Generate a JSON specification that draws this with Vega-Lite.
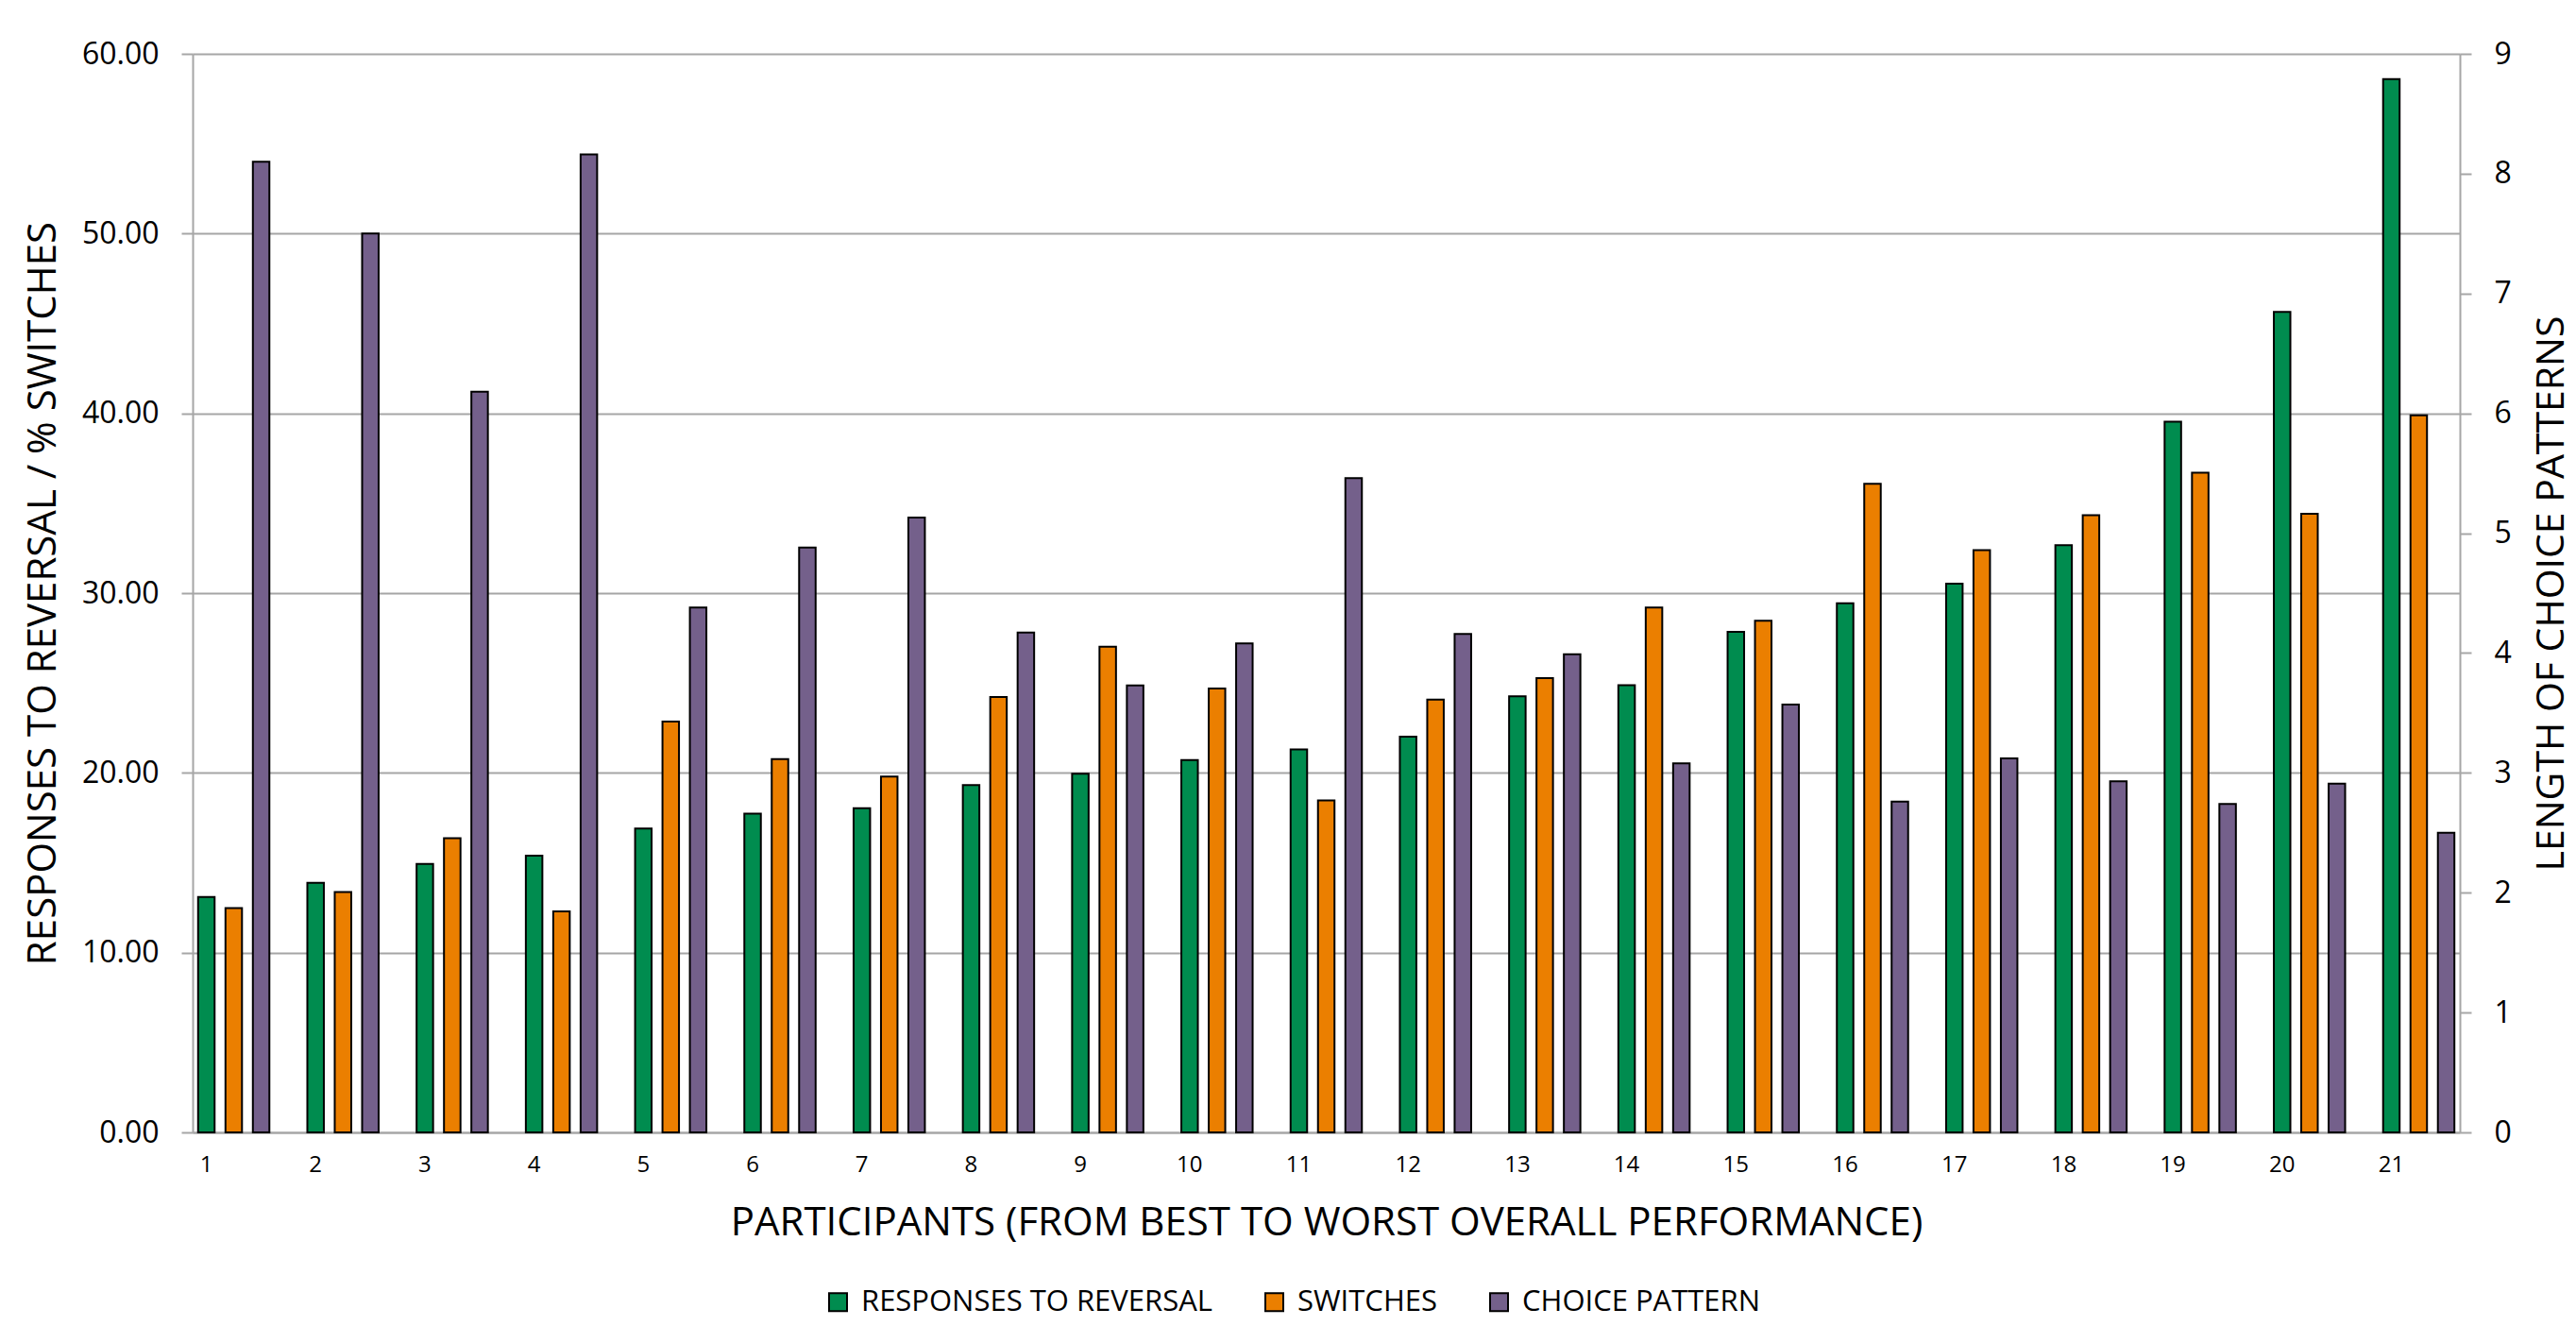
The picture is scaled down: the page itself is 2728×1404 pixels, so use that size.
{
  "$schema": "https://vega.github.io/schema/vega-lite/v6.json",
  "autosize": {"type": "none"},
  "padding": {"left": 204, "top": 57, "right": 123, "bottom": 205},
  "width": 2401,
  "height": 1142,
  "background": "#ffffff",
  "data": {
    "values": [
      {"participant": 1, "series": "RESPONSES TO REVERSAL", "value": 13.10},
      {"participant": 1, "series": "SWITCHES", "value": 12.48},
      {"participant": 1, "series": "CHOICE PATTERN", "value": 8.10},
      {"participant": 2, "series": "RESPONSES TO REVERSAL", "value": 13.88},
      {"participant": 2, "series": "SWITCHES", "value": 13.37},
      {"participant": 2, "series": "CHOICE PATTERN", "value": 7.50},
      {"participant": 3, "series": "RESPONSES TO REVERSAL", "value": 14.93},
      {"participant": 3, "series": "SWITCHES", "value": 16.37},
      {"participant": 3, "series": "CHOICE PATTERN", "value": 6.18},
      {"participant": 4, "series": "RESPONSES TO REVERSAL", "value": 15.40},
      {"participant": 4, "series": "SWITCHES", "value": 12.29},
      {"participant": 4, "series": "CHOICE PATTERN", "value": 8.16},
      {"participant": 5, "series": "RESPONSES TO REVERSAL", "value": 16.91},
      {"participant": 5, "series": "SWITCHES", "value": 22.86},
      {"participant": 5, "series": "CHOICE PATTERN", "value": 4.38},
      {"participant": 6, "series": "RESPONSES TO REVERSAL", "value": 17.73},
      {"participant": 6, "series": "SWITCHES", "value": 20.76},
      {"participant": 6, "series": "CHOICE PATTERN", "value": 4.88},
      {"participant": 7, "series": "RESPONSES TO REVERSAL", "value": 18.04},
      {"participant": 7, "series": "SWITCHES", "value": 19.79},
      {"participant": 7, "series": "CHOICE PATTERN", "value": 5.13},
      {"participant": 8, "series": "RESPONSES TO REVERSAL", "value": 19.32},
      {"participant": 8, "series": "SWITCHES", "value": 24.22},
      {"participant": 8, "series": "CHOICE PATTERN", "value": 4.17},
      {"participant": 9, "series": "RESPONSES TO REVERSAL", "value": 19.95},
      {"participant": 9, "series": "SWITCHES", "value": 27.02},
      {"participant": 9, "series": "CHOICE PATTERN", "value": 3.73},
      {"participant": 10, "series": "RESPONSES TO REVERSAL", "value": 20.72},
      {"participant": 10, "series": "SWITCHES", "value": 24.69},
      {"participant": 10, "series": "CHOICE PATTERN", "value": 4.08},
      {"participant": 11, "series": "RESPONSES TO REVERSAL", "value": 21.31},
      {"participant": 11, "series": "SWITCHES", "value": 18.47},
      {"participant": 11, "series": "CHOICE PATTERN", "value": 5.46},
      {"participant": 12, "series": "RESPONSES TO REVERSAL", "value": 22.01},
      {"participant": 12, "series": "SWITCHES", "value": 24.07},
      {"participant": 12, "series": "CHOICE PATTERN", "value": 4.16},
      {"participant": 13, "series": "RESPONSES TO REVERSAL", "value": 24.26},
      {"participant": 13, "series": "SWITCHES", "value": 25.27},
      {"participant": 13, "series": "CHOICE PATTERN", "value": 3.99},
      {"participant": 14, "series": "RESPONSES TO REVERSAL", "value": 24.88},
      {"participant": 14, "series": "SWITCHES", "value": 29.20},
      {"participant": 14, "series": "CHOICE PATTERN", "value": 3.08},
      {"participant": 15, "series": "RESPONSES TO REVERSAL", "value": 27.84},
      {"participant": 15, "series": "SWITCHES", "value": 28.46},
      {"participant": 15, "series": "CHOICE PATTERN", "value": 3.57},
      {"participant": 16, "series": "RESPONSES TO REVERSAL", "value": 29.43},
      {"participant": 16, "series": "SWITCHES", "value": 36.08},
      {"participant": 16, "series": "CHOICE PATTERN", "value": 2.76},
      {"participant": 17, "series": "RESPONSES TO REVERSAL", "value": 30.52},
      {"participant": 17, "series": "SWITCHES", "value": 32.39},
      {"participant": 17, "series": "CHOICE PATTERN", "value": 3.12},
      {"participant": 18, "series": "RESPONSES TO REVERSAL", "value": 32.66},
      {"participant": 18, "series": "SWITCHES", "value": 34.33},
      {"participant": 18, "series": "CHOICE PATTERN", "value": 2.93},
      {"participant": 19, "series": "RESPONSES TO REVERSAL", "value": 39.54},
      {"participant": 19, "series": "SWITCHES", "value": 36.70},
      {"participant": 19, "series": "CHOICE PATTERN", "value": 2.74},
      {"participant": 20, "series": "RESPONSES TO REVERSAL", "value": 45.65},
      {"participant": 20, "series": "SWITCHES", "value": 34.41},
      {"participant": 20, "series": "CHOICE PATTERN", "value": 2.91},
      {"participant": 21, "series": "RESPONSES TO REVERSAL", "value": 58.59},
      {"participant": 21, "series": "SWITCHES", "value": 39.89},
      {"participant": 21, "series": "CHOICE PATTERN", "value": 2.50}
    ]
  },
  "encoding": {
    "x": {
      "field": "participant",
      "type": "ordinal",
      "scale": {"paddingInner": 0.3475, "paddingOuter": 0.05},
      "axis": {
        "title": "PARTICIPANTS (FROM BEST TO WORST OVERALL PERFORMANCE)",
        "labelAngle": 0,
        "labelOffset": -29,
        "labelPadding": 22,
        "labelFont": "Open Sans",
        "labelFontSize": 24,
        "labelColor": "#000000",
        "ticks": false,
        "domainColor": "#a6a6a6",
        "domainWidth": 2,
        "grid": false,
        "titleFont": "Open Sans",
        "titleFontSize": 42,
        "titleFontWeight": "normal",
        "titleColor": "#000000",
        "titleY": 95,
        "titleBaseline": "middle"
      }
    },
    "xOffset": {
      "field": "series",
      "type": "nominal",
      "scale": {
        "domain": ["RESPONSES TO REVERSAL", "SWITCHES", "CHOICE PATTERN"],
        "paddingInner": 0.397,
        "paddingOuter": 0
      }
    },
    "color": {
      "field": "series",
      "type": "nominal",
      "scale": {
        "domain": ["RESPONSES TO REVERSAL", "SWITCHES", "CHOICE PATTERN"],
        "range": ["#008c4f", "#eb7f00", "#74608b"]
      },
      "legend": {
        "title": null,
        "orient": "none",
        "direction": "horizontal",
        "legendX": 668,
        "legendY": 1306,
        "padding": 0,
        "symbolType": "square",
        "symbolSize": 361,
        "symbolStrokeColor": "#000000",
        "symbolStrokeWidth": 2,
        "symbolOpacity": 1,
        "labelFont": "Open Sans",
        "labelFontSize": 31,
        "labelColor": "#000000",
        "labelOffset": 9,
        "labelLimit": 0,
        "columnPadding": 50
      }
    }
  },
  "layer": [
    {
      "transform": [{"filter": "datum.series !== 'CHOICE PATTERN'"}],
      "mark": {"type": "bar", "stroke": "#000000", "strokeWidth": 2},
      "encoding": {
        "y": {
          "field": "value",
          "type": "quantitative",
          "scale": {"domain": [0, 60], "nice": false},
          "axis": {
            "title": "RESPONSES TO REVERSAL / % SWITCHES",
            "values": [0, 10, 20, 30, 40, 50, 60],
            "format": ".2f",
            "grid": true,
            "gridColor": "#a6a6a6",
            "gridWidth": 2,
            "domainColor": "#a6a6a6",
            "domainWidth": 2,
            "tickColor": "#a6a6a6",
            "tickWidth": 2,
            "tickSize": 12,
            "labelPadding": 24,
            "labelFont": "Open Sans",
            "labelFontSize": 32,
            "labelColor": "#000000",
            "titleFont": "Open Sans",
            "titleFontSize": 42,
            "titleFontWeight": "normal",
            "titleColor": "#000000",
            "titleAngle": 270,
            "titleAlign": "center",
            "titleBaseline": "middle",
            "titleX": -159,
            "titleY": 571
          }
        }
      }
    },
    {
      "transform": [{"filter": "datum.series === 'CHOICE PATTERN'"}],
      "mark": {"type": "bar", "stroke": "#000000", "strokeWidth": 2},
      "encoding": {
        "y": {
          "field": "value",
          "type": "quantitative",
          "scale": {"domain": [0, 9], "nice": false},
          "axis": {
            "orient": "right",
            "title": "LENGTH OF CHOICE PATTERNS",
            "values": [0, 1, 2, 3, 4, 5, 6, 7, 8, 9],
            "format": "d",
            "grid": false,
            "domainColor": "#a6a6a6",
            "domainWidth": 2,
            "tickColor": "#a6a6a6",
            "tickWidth": 2,
            "tickSize": 12,
            "labelPadding": 24,
            "labelFont": "Open Sans",
            "labelFontSize": 32,
            "labelColor": "#000000",
            "titleFont": "Open Sans",
            "titleFontSize": 41,
            "titleFontWeight": "normal",
            "titleColor": "#000000",
            "titleAngle": 270,
            "titleAlign": "center",
            "titleBaseline": "middle",
            "titleX": 97,
            "titleY": 571
          }
        }
      }
    }
  ],
  "resolve": {"scale": {"y": "independent"}, "axis": {"y": "independent"}},
  "config": {
    "view": {"stroke": null},
    "font": "Open Sans"
  }
}
